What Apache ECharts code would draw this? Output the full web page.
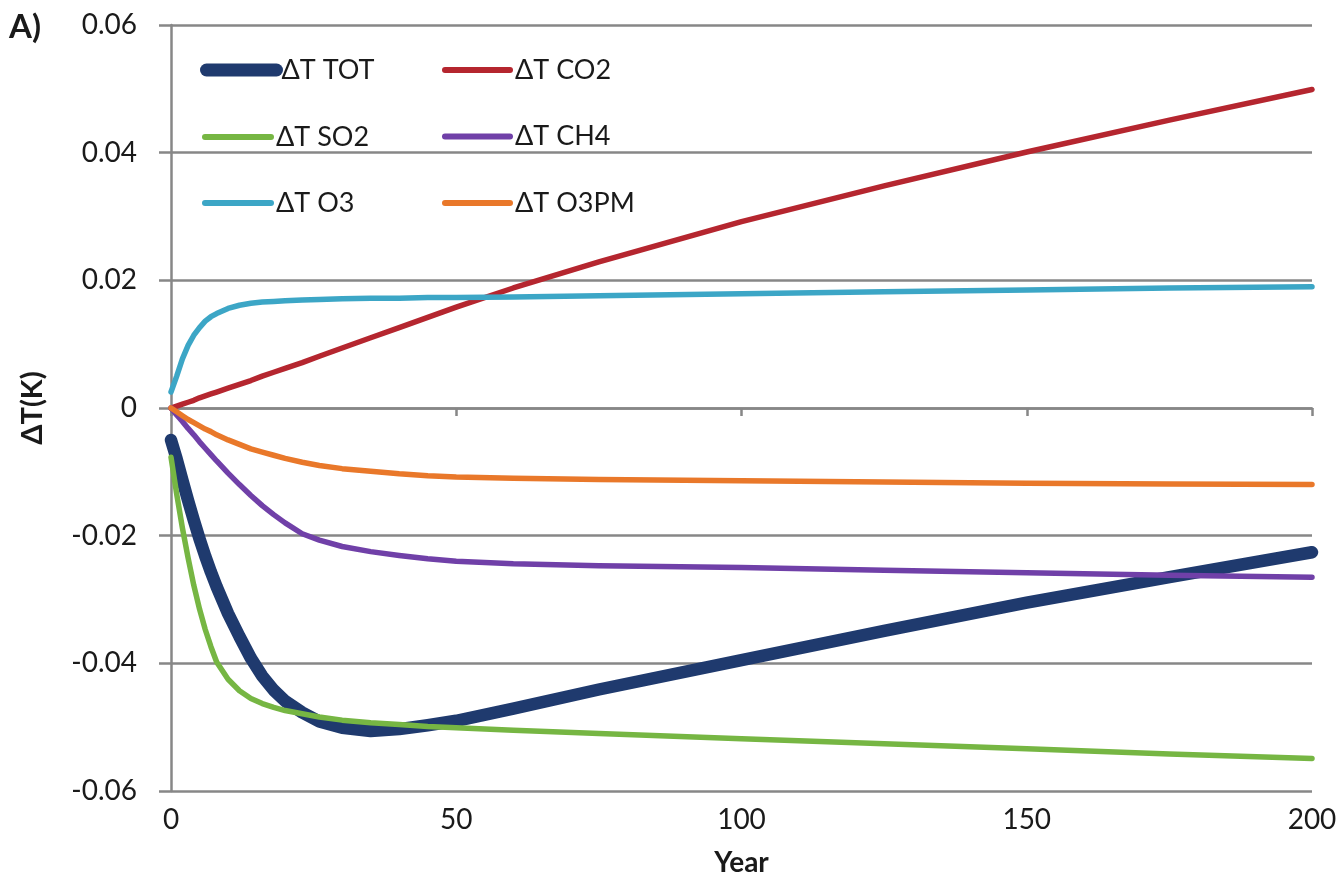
<!DOCTYPE html>
<html>
<head>
<meta charset="utf-8">
<script src="https://cdn.jsdelivr.net/npm/echarts@6/dist/echarts.min.js"></script>
<style>
html,body{margin:0;padding:0;background:#fff;}
#chart{width:1342px;height:880px;}
</style>
</head>
<body>
<div id="chart"></div>
<script>
// ---- data ----
const years = [0,1,2,3,4,5,6,7,8,10,12,14,16,18,20,23,26,30,35,40,45,50,60,75,100,125,150,175,200];
const dT_TOT  = [-0.005,-0.008,-0.0113,-0.0145,-0.0176,-0.0205,-0.0232,-0.0257,-0.028,-0.0322,-0.0358,-0.0392,-0.042,-0.0442,-0.0459,-0.0477,-0.0491,-0.0501,-0.0506,-0.0503,-0.0497,-0.049,-0.0471,-0.0441,-0.0395,-0.0349,-0.0305,-0.0265,-0.0226];
const dT_CO2  = [0,0.0003,0.0006,0.0009,0.0012,0.0016,0.0019,0.0022,0.0025,0.0031,0.0037,0.0043,0.005,0.0056,0.0062,0.0071,0.0081,0.0094,0.011,0.0126,0.0142,0.0158,0.0188,0.0229,0.0292,0.0348,0.0401,0.0451,0.0499];
const dT_SO2  = [-0.0077,-0.0135,-0.0188,-0.0235,-0.0278,-0.0315,-0.0347,-0.0374,-0.0398,-0.0425,-0.0443,-0.0455,-0.0463,-0.0469,-0.0474,-0.0479,-0.0484,-0.0489,-0.0493,-0.0496,-0.0499,-0.0501,-0.0505,-0.051,-0.0518,-0.0526,-0.0534,-0.0542,-0.0549];
const dT_CH4  = [0,-0.0011,-0.0021,-0.0032,-0.0042,-0.0053,-0.0063,-0.0073,-0.0083,-0.0102,-0.012,-0.0137,-0.0153,-0.0167,-0.018,-0.0197,-0.0207,-0.0217,-0.0225,-0.0231,-0.0236,-0.024,-0.0244,-0.0247,-0.025,-0.0254,-0.0258,-0.0262,-0.0265];
const dT_O3   = [0.0025,0.005,0.0077,0.0098,0.0114,0.0126,0.0136,0.0143,0.0148,0.0156,0.0161,0.0164,0.0166,0.0167,0.0168,0.0169,0.017,0.0171,0.0172,0.0172,0.0173,0.0173,0.0174,0.0176,0.0179,0.0182,0.0185,0.0188,0.019];
const dT_O3PM = [0,-0.0006,-0.0012,-0.0018,-0.0023,-0.0028,-0.0033,-0.0037,-0.0042,-0.005,-0.0057,-0.0064,-0.0069,-0.0074,-0.0079,-0.0085,-0.009,-0.0095,-0.0099,-0.0103,-0.0106,-0.0108,-0.011,-0.0112,-0.0114,-0.0116,-0.0118,-0.0119,-0.012];
const seriesNames = ['ΔT TOT','ΔT CO2','ΔT SO2','ΔT CH4','ΔT O3','ΔT O3PM'];
const xTicks = [0,50,100,150,200];
const yTicks = [-0.06,-0.04,-0.02,0,0.02,0.04,0.06];

// ---- chart ----
const FONT = 'Lato';
const TXT = '#1a1a1a';
const GRAY = '#878787';
const colors = ['#1f3a6e','#b5262f','#76b643','#7040a8','#3ca6c6','#e9782a'];
const widths = [12.5,5.5,5.5,5.5,5.5,5.5];
const allData = [dT_TOT,dT_CO2,dT_SO2,dT_CH4,dT_O3,dT_O3PM];

function pairs(vals){ return years.map((y,i)=>[y, vals[i]]); }

const series = seriesNames.map((n,i)=>({
  name: n,
  type: 'line',
  xAxisIndex: 0,
  yAxisIndex: 0,
  data: pairs(allData[i]),
  symbol: 'none',
  smooth: false,
  clip: false,
  color: colors[i],
  lineStyle: {color: colors[i], width: widths[i], cap: 'round', join: 'round'},
  itemStyle: {color: colors[i]},
  emphasis: {disabled: true},
  animation: false
}));

const legendText = {fontFamily: FONT, fontSize: 27, color: TXT, lineHeight: 30};
const chart = echarts.init(document.getElementById('chart'), null, {renderer: 'canvas'});
chart.setOption({
  backgroundColor: '#fff',
  animation: false,
  grid: {left: 171, right: 30, top: 25, bottom: 89, containLabel: false, outerBoundsMode: 'none'},
  graphic: [{
    type: 'text', left: 9, top: 11,
    style: {text: 'A)', fontFamily: FONT, fontSize: 33, fontWeight: 'bold', fill: TXT}
  }],
  legend: [
    {data: [seriesNames[0]], left: 200, top: 55, padding: 0, itemWidth: 70, itemHeight: 13,
     selectedMode: false, textStyle: legendText, orient: 'vertical',
     itemStyle: {opacity: 0}, lineStyle: {width: 13, cap: 'round'}},
    {data: [seriesNames[2], seriesNames[4]], left: 202, top: 122, padding: 0, itemWidth: 66, itemHeight: 7,
     itemGap: 36, selectedMode: false, textStyle: legendText, orient: 'vertical',
     itemStyle: {opacity: 0}, lineStyle: {width: 6, cap: 'round'}},
    {data: [seriesNames[1], seriesNames[3], seriesNames[5]], left: 442, top: 55, padding: 0, itemWidth: 65, itemHeight: 7,
     itemGap: 36.5, selectedMode: false, textStyle: legendText, orient: 'vertical',
     itemStyle: {opacity: 0}, lineStyle: {width: 6, cap: 'round'}}
  ],
  xAxis: [
    {
      type: 'value', min: xTicks[0], max: xTicks[xTicks.length-1], interval: 50,
      position: 'bottom',
      name: 'Year', nameLocation: 'middle', nameGap: 58,
      nameTextStyle: {fontFamily: FONT, fontSize: 28, fontWeight: 'bold', color: TXT},
      axisLine: {show: false, onZero: false},
      axisTick: {show: false},
      splitLine: {show: false},
      axisLabel: {fontFamily: FONT, fontSize: 28, color: TXT, margin: 15,
        customValues: xTicks}
    },
    {
      type: 'value', min: xTicks[0], max: xTicks[xTicks.length-1], interval: 50,
      position: 'bottom',
      axisLine: {show: true, onZero: true, lineStyle: {color: GRAY, width: 2.5}},
      axisTick: {show: true, inside: false, length: 8, lineStyle: {color: GRAY, width: 2.5}},
      axisLabel: {show: false},
      splitLine: {show: false}
    }
  ],
  yAxis: {
    type: 'value', min: yTicks[0], max: yTicks[yTicks.length-1], interval: 0.02,
    name: 'ΔT(K)', nameLocation: 'middle', nameGap: 124,
    nameTextStyle: {fontFamily: FONT, fontSize: 29, fontWeight: 'bold', color: TXT},
    axisLine: {show: true, lineStyle: {color: GRAY, width: 2.5}},
    axisTick: {show: true, length: 12, lineStyle: {color: GRAY, width: 2.5}},
    splitLine: {show: true, lineStyle: {color: GRAY, width: 2.5}},
    axisLabel: {fontFamily: FONT, fontSize: 28, color: TXT, margin: 34,
      formatter: v => Math.abs(v) < 1e-9 ? '0' : v.toFixed(2)}
  },
  series: series
});
</script>
</body>
</html>
